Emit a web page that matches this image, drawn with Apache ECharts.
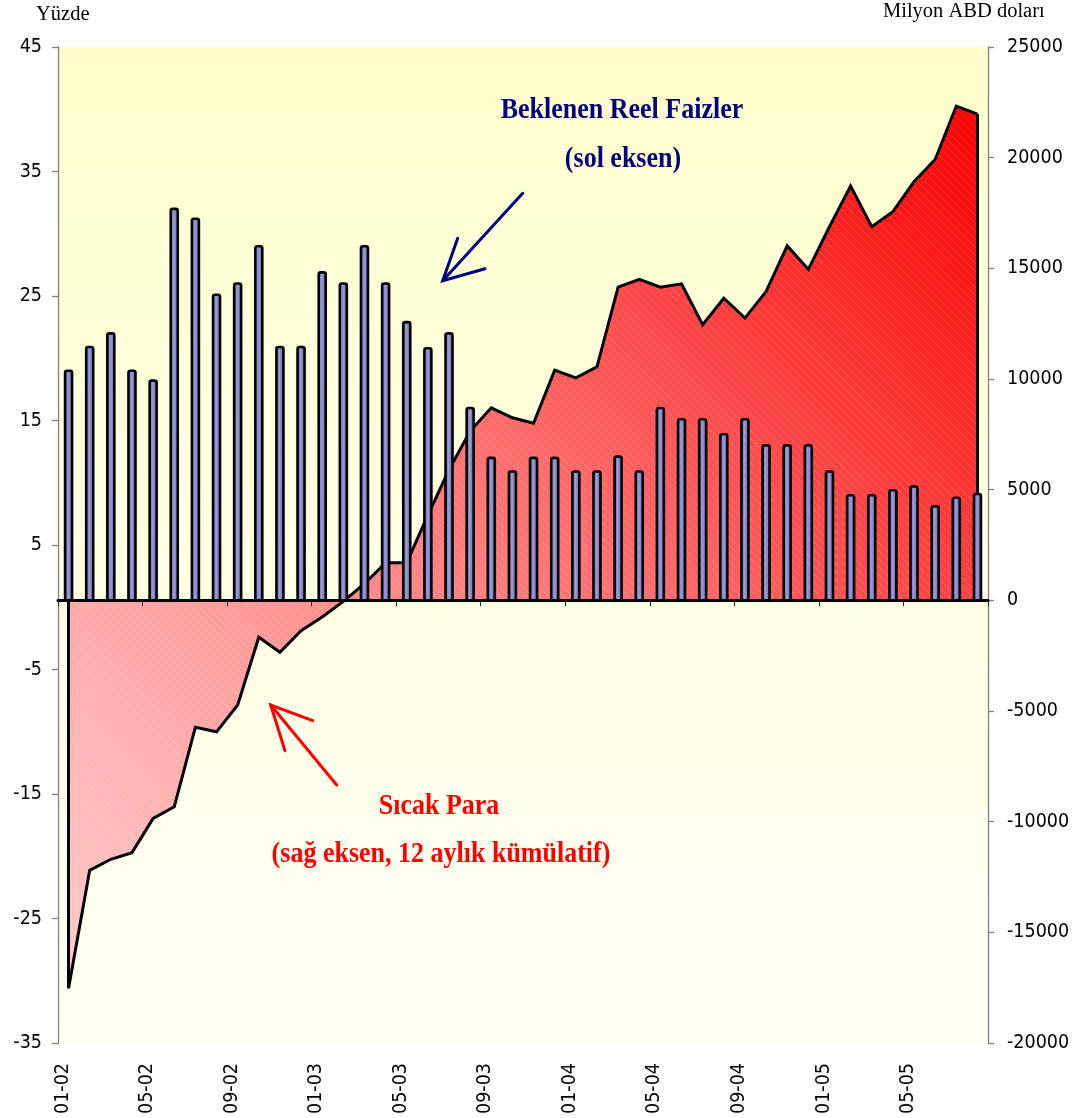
<!DOCTYPE html>
<html><head><meta charset="utf-8">
<script src="https://cdn.jsdelivr.net/npm/echarts@6/dist/echarts.min.js"></script>
<style>html,body{margin:0;padding:0;background:#fff;}#chart{width:1086px;height:1118px;}</style>
</head><body><div id="chart"></div>
<script>
const categories = ['01-02','02-02','03-02','04-02','05-02','06-02','07-02','08-02','09-02','10-02','11-02','12-02',
  '01-03','02-03','03-03','04-03','05-03','06-03','07-03','08-03','09-03','10-03','11-03','12-03',
  '01-04','02-04','03-04','04-04','05-04','06-04','07-04','08-04','09-04','10-04','11-04','12-04',
  '01-05','02-05','03-05','04-05','05-05','06-05','07-05','08-05'];
// Beklenen reel faizler (sol eksen, %)
const realRate = [19.0, 20.9, 22.0, 19.0, 18.2, 32.0, 31.2, 25.1, 26.0, 29.0, 20.9, 20.9,
  26.9, 26.0, 29.0, 26.0, 22.9, 20.8, 22.0, 16.0, 12.0, 10.9, 12.0, 12.0,
  10.9, 10.9, 12.1, 10.9, 16.0, 15.1, 15.1, 13.9, 15.1, 13.0, 13.0, 13.0,
  10.9, 9.0, 9.0, 9.4, 9.7, 8.1, 8.8, 9.1];
// Sıcak para (sağ eksen, 12 aylık kümülatif, milyon ABD doları)
const hotMoney = [-17530, -12200, -11700, -11400, -9850, -9330, -5740, -5940, -4730, -1670, -2350, -1370,
  -750, -50, 750, 1700, 1700, 3850, 5900, 7650, 8700, 8250, 8000, 10400,
  10050, 10550, 14150, 14500, 14150, 14300, 12450, 13650, 12750, 13950, 16020, 14950,
  16880, 18720, 16880, 17560, 18910, 19920, 22330, 21970];
const leftRange = [-35, 45];
const leftInterval = 10;
const rightRange = [-20000, 25000];
const rightInterval = 5000;

// left-axis value where the category axis (right-axis zero) crosses
const barBase = leftRange[1] - (leftRange[1] - leftRange[0]) * (rightRange[1] - 0) / (rightRange[1] - rightRange[0]);

const chart = echarts.init(document.getElementById('chart'), null, {renderer: 'canvas'});

const hatch = document.createElement('canvas');
hatch.width = 8; hatch.height = 8;
const hc = hatch.getContext('2d');
hc.strokeStyle = 'rgba(255,255,255,0.16)';
hc.lineWidth = 1;
hc.beginPath();
hc.moveTo(0, 0); hc.lineTo(8, 8);
hc.moveTo(-1, 7); hc.lineTo(1, 9);
hc.moveTo(7, -1); hc.lineTo(9, 1);
hc.stroke();

const labelFont = '"DejaVu Sans Condensed", "DejaVu Sans", sans-serif';
const serif = '"Liberation Serif", "Times New Roman", serif';
const axisGray = '#808080';
const last = categories.length - 1;
const plain = v => String(v);

const barFill = new echarts.graphic.LinearGradient(0, 0, 1, 0, [
  {offset: 0, color: '#4A4A92'},
  {offset: 0.45, color: '#9C9CD8'},
  {offset: 1, color: '#5858A0'}
]);

const option = {
  animation: false,
  grid: {
    left: 58, right: 98, top: 47, bottom: 75,
    containLabel: false, outerBoundsMode: 'none',
    show: true, borderWidth: 0,
    backgroundColor: new echarts.graphic.LinearGradient(0, 0, 0, 1, [
      {offset: 0, color: '#FFFFCC'},
      {offset: 1, color: '#FFFFF6'}
    ])
  },
  xAxis: [
    {
      type: 'category', data: categories, boundaryGap: true, position: 'bottom', z: 6,
      axisLine: {show: true, onZero: true, onZeroAxisIndex: 1, lineStyle: {color: '#000', width: 3}},
      axisTick: {show: true, interval: 3, length: 6, inside: false, lineStyle: {color: '#222', width: 1}},
      axisLabel: {show: false},
      splitLine: {show: false}
    },
    {
      type: 'category', data: categories, boundaryGap: true, position: 'bottom',
      axisLine: {show: false, onZero: false},
      axisTick: {show: false},
      axisLabel: {
        show: true, interval: 3, rotate: 90, margin: 20,
        fontSize: 19.5, fontFamily: labelFont, color: '#000',
        verticalAlign: 'bottom', lineHeight: 12
      },
      splitLine: {show: false}
    }
  ],
  yAxis: [
    {
      type: 'value', min: leftRange[0], max: leftRange[1], interval: leftInterval, position: 'left',
      axisLine: {show: true, onZero: false, lineStyle: {color: axisGray, width: 1.3}},
      axisTick: {show: true, length: 6, lineStyle: {color: axisGray, width: 1.3}},
      axisLabel: {margin: 16, fontSize: 19.5, fontFamily: labelFont, color: '#000', formatter: plain},
      splitLine: {show: false}
    },
    {
      type: 'value', min: rightRange[0], max: rightRange[1], interval: rightInterval, position: 'right',
      axisLine: {show: true, onZero: false, lineStyle: {color: axisGray, width: 1.3}},
      axisTick: {show: true, length: 6, lineStyle: {color: axisGray, width: 1.3}},
      axisLabel: {margin: 19, fontSize: 19.5, fontFamily: labelFont, color: '#000', formatter: plain},
      splitLine: {show: false}
    }
  ],
  series: [
    {
      name: 'Sıcak Para', type: 'line', xAxisIndex: 0, yAxisIndex: 1,
      data: hotMoney, symbol: 'none', z: 2,
      lineStyle: {color: '#000', width: 3, join: 'miter'},
      areaStyle: {
        opacity: 1,
        color: new echarts.graphic.LinearGradient(0, 1, 1, 0, [
          {offset: 0, color: '#FFCCCC'},
          {offset: 0.25, color: '#FFA4A4'},
          {offset: 0.55, color: '#FF6C6C'},
          {offset: 1, color: '#FF0000'}
        ])
      },
      markLine: {
        silent: true, symbol: ['none', 'none'], animation: false,
        label: {show: false},
        lineStyle: {color: '#000', width: 3, type: 'solid'},
        data: [
          [{coord: [categories[0], hotMoney[0]]}, {coord: [categories[0], 0]}],
          [{coord: [categories[last], hotMoney[last]]}, {coord: [categories[last], 0]}]
        ]
      }
    },
    {
      name: 'hatch', type: 'line', xAxisIndex: 0, yAxisIndex: 1,
      data: hotMoney, symbol: 'none', silent: true, z: 2,
      lineStyle: {width: 0, opacity: 0},
      areaStyle: {opacity: 1, color: {image: hatch, repeat: 'repeat'}}
    },
    {
      name: 'Beklenen Reel Faizler', type: 'custom', xAxisIndex: 0, yAxisIndex: 0, z: 5,
      data: realRate.map((v, i) => [i, v]),
      encode: {x: 0, y: 1},
      renderItem: function (params, api) {
        const i = api.value(0);
        const top = api.coord([i, api.value(1)]);
        const base = api.coord([i, barBase]);
        const w = 7;
        return {
          type: 'rect',
          shape: {x: top[0] - w / 2, y: top[1], width: w, height: base[1] - top[1], r: [2, 2, 0, 0]},
          style: {fill: barFill, stroke: '#000', lineWidth: 2.6}
        };
      }
    }
  ],
  graphic: [
    {type: 'text', left: 36, top: 4, style: {text: 'Yüzde', font: '20.5px ' + serif, fill: '#000'}},
    {type: 'text', left: 883, top: 1, style: {text: 'Milyon ABD doları', font: '20.5px ' + serif, fill: '#000'}},
    {type: 'text', x: 622, y: 110, scaleY: 1.15, originX: 0, originY: 0, style: {text: 'Beklenen Reel Faizler', font: 'bold 26px ' + serif, fill: '#000080', align: 'center', verticalAlign: 'middle'}},
    {type: 'text', x: 623, y: 159, scaleY: 1.15, originX: 0, originY: 0, style: {text: '(sol eksen)', font: 'bold 26px ' + serif, fill: '#000080', align: 'center', verticalAlign: 'middle'}},
    {type: 'text', x: 439, y: 806, scaleY: 1.15, originX: 0, originY: 0, style: {text: 'Sıcak Para', font: 'bold 26px ' + serif, fill: '#FF0000', align: 'center', verticalAlign: 'middle'}},
    {type: 'text', x: 441, y: 854, scaleY: 1.15, originX: 0, originY: 0, style: {text: '(sağ eksen, 12 aylık kümülatif)', font: 'bold 26px ' + serif, fill: '#FF0000', align: 'center', verticalAlign: 'middle'}},
    {type: 'polyline', shape: {points: [[522.7, 193.3], [442.7, 280.7]]}, style: {stroke: '#000080', lineWidth: 3, lineCap: 'round'}},
    {type: 'polyline', shape: {points: [[457.7, 238.3], [442.7, 280.7], [485, 268.7]]}, style: {stroke: '#000080', lineWidth: 3, lineCap: 'round', lineJoin: 'miter', fill: null}},
    {type: 'polyline', shape: {points: [[336.7, 785], [270.7, 705]]}, style: {stroke: '#FF0000', lineWidth: 3, lineCap: 'round'}},
    {type: 'polyline', shape: {points: [[285, 750.7], [270.7, 705], [312.7, 720.7]]}, style: {stroke: '#FF0000', lineWidth: 3, lineCap: 'round', lineJoin: 'miter', fill: null}}
  ]
};
chart.setOption(option);
</script>
</body></html>
